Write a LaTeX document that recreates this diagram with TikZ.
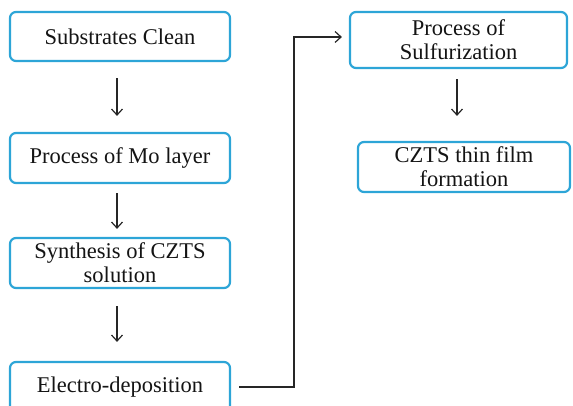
\documentclass[tikz,border=0pt]{standalone}
\usepackage{fontspec}
\setmainfont{Liberation Serif}
\usetikzlibrary{arrows.meta}
\definecolor{boxblue}{RGB}{45,165,215}
\definecolor{txt}{RGB}{20,20,20}
\begin{document}
\begin{tikzpicture}[x=1pt,y=1pt,
  stepbox/.style={draw=boxblue, line width=2.2pt, rounded corners=6pt, fill=white,
    text=txt, align=center, inner sep=0pt,
    font=\fontsize{22.5}{24}\selectfont},
  flow/.style={draw=black!85, line width=1.2pt, -{Straight Barb[length=6pt,width=11pt,line width=1.2pt]}}]
\useasboundingbox (0,0) rectangle (573,406);
\clip (0,0) rectangle (573,406);
\node[stepbox, minimum width=220pt, minimum height=49pt] (b1) at (120,369.5) {Substrates Clean};
\node[stepbox, minimum width=220pt, minimum height=50pt] (b2) at (120,248) {Process of Mo layer};
\node[stepbox, minimum width=220pt, minimum height=50pt] (b3) at (120,143) {Synthesis of CZTS\\solution};
\node[stepbox, minimum width=220pt, minimum height=50pt] (b4) at (120,19) {Electro-deposition};
\node[stepbox, minimum width=217pt, minimum height=56pt] (b5) at (458.5,366) {Process of\\Sulfurization};
\node[stepbox, minimum width=212pt, minimum height=50pt] (b6) at (464,239) {CZTS thin film\\formation};
\draw[flow, shorten <=16pt, shorten >=16pt] ([xshift=-3pt]b1.south) -- ([xshift=-3pt]b2.north);
\draw[flow, shorten <=9pt, shorten >=8pt] ([xshift=-3pt]b2.south) -- ([xshift=-3pt]b3.north);
\draw[flow, shorten <=17pt, shorten >=19pt] ([xshift=-3pt]b3.south) -- ([xshift=-3pt]b4.north);
\coordinate (turn) at (294,19);
\draw[flow, shorten <=8pt, shorten >=7pt] (b4.east) -- (turn) |- ([yshift=3pt]b5.west);
\draw[flow, shorten <=10pt, shorten >=25pt] ([xshift=-1.5pt]b5.south) -- ([xshift=-1.5pt]b5.south |- b6.north);
\end{tikzpicture}
\end{document}
